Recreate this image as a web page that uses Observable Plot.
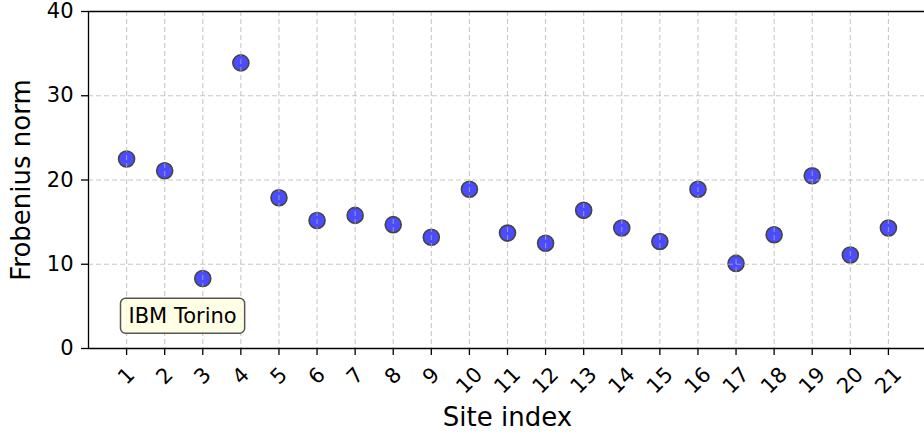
<!DOCTYPE html>
<html>
<head>
<meta charset="utf-8">
<script src="https://cdn.jsdelivr.net/npm/d3@7"></script>
<script src="https://cdn.jsdelivr.net/npm/@observablehq/plot@0.6"></script>
<style>
  html, body { margin: 0; padding: 0; background: #fff; }
  #chart svg { display: block; }
</style>
</head>
<body>
<div id="chart"></div>
<script>
const sites = [1,2,3,4,5,6,7,8,9,10,11,12,13,14,15,16,17,18,19,20,21];
const norms = [22.5,21.1,8.3,33.9,17.9,15.2,15.8,14.7,13.2,18.9,13.7,12.5,16.4,14.3,12.7,18.9,10.1,13.5,20.5,11.1,14.3];
const yTicks = [0,10,20,30,40];
const deviceLabel = "IBM Torino";
const xLabel = "Site index";
const yLabel = "Frobenius norm";

const data = sites.map((s, i) => ({site: s, norm: norms[i]}));
const font = "DejaVu Sans, sans-serif";
const oneDigit = sites.filter(s => s < 10);
const twoDigit = sites.filter(s => s >= 10);

const plot = Plot.plot({
  width: 924,
  height: 436,
  marginLeft: 88,
  marginTop: 11,
  marginBottom: 88,
  marginRight: -2,
  style: {fontFamily: font, fontSize: "21px", color: "#000", background: "#fff"},
  x: {domain: [0, 22]},
  y: {domain: [0, 40]},
  marks: [
    Plot.dot(data, {x: "site", y: "norm", r: 8, fill: "#4c4cff", stroke: "#444", strokeWidth: 1.6}),
    Plot.gridX(sites, {stroke: "#b0b0b0", strokeOpacity: 0.7, strokeDasharray: "5,3", strokeWidth: 1.1}),
    Plot.gridY(yTicks.slice(1, -1), {stroke: "#b0b0b0", strokeOpacity: 0.7, strokeDasharray: "5,3", strokeWidth: 1.1}),
    Plot.ruleX([0], {stroke: "#000", strokeWidth: 1.3}),
    Plot.ruleY([0, 40], {stroke: "#000", strokeWidth: 1.3}),
    Plot.axisY(yTicks, {tickSize: 7, tickPadding: 8, fontSize: 21, label: null, stroke: "#000", strokeWidth: 1.3}),
    Plot.axisX(sites, {tickSize: 7, tickFormat: () => "", label: null, stroke: "#000", strokeWidth: 1.3}),
    Plot.text(oneDigit, {x: d => d, text: d => String(d), frameAnchor: "bottom", dy: 27.5, rotate: -45, fontSize: 21, textAnchor: "middle", lineAnchor: "middle", fill: "#000"}),
    Plot.text(twoDigit, {x: d => d, text: d => String(d), frameAnchor: "bottom", dy: 32, rotate: -45, fontSize: 21, textAnchor: "middle", lineAnchor: "middle", fill: "#000"}),
    Plot.text([yLabel], {frameAnchor: "left", rotate: -90, dx: -67, fontSize: 26, textAnchor: "middle", lineAnchor: "middle", fill: "#000"}),
    Plot.text([xLabel], {frameAnchor: "bottom", dy: 69.5, fontSize: 26, textAnchor: "middle", lineAnchor: "middle", fill: "#000"}),
    Plot.text([deviceLabel], {frameAnchor: "bottom-left", dx: 40, dy: -32.5, fontSize: 21, textAnchor: "start", lineAnchor: "middle", fill: "#000", className: "device-label"})
  ]
});

document.getElementById("chart").appendChild(plot);

// Background box behind the device label
const lab = plot.querySelector(".device-label text");
if (lab) {
  const bb = lab.getBBox();
  const padX = 8, padY = 5.5;
  const rect = document.createElementNS("http://www.w3.org/2000/svg", "rect");
  rect.setAttribute("x", bb.x - padX);
  rect.setAttribute("y", bb.y - padY);
  rect.setAttribute("width", bb.width + 2 * padX);
  rect.setAttribute("height", bb.height + 2 * padY);
  rect.setAttribute("rx", 5);
  rect.setAttribute("fill", "#ffffe0");
  rect.setAttribute("fill-opacity", 0.85);
  rect.setAttribute("stroke", "#555");
  rect.setAttribute("stroke-width", 1.5);
  const t = lab.getAttribute("transform");
  if (t) rect.setAttribute("transform", t);
  lab.parentNode.insertBefore(rect, lab);
}
</script>
</body>
</html>
